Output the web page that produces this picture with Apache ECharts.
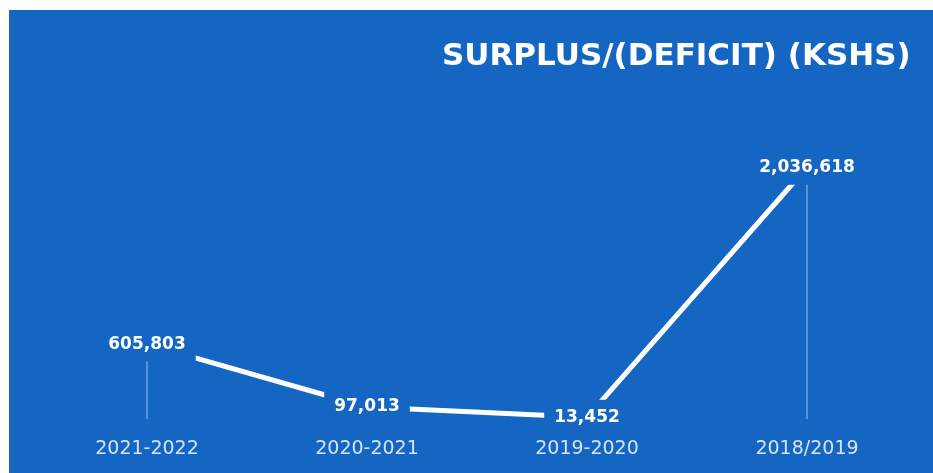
<!DOCTYPE html>
<html>
<head>
<meta charset="utf-8">
<script src="https://cdn.jsdelivr.net/npm/echarts@6/dist/echarts.min.js"></script>
<style>
  html, body { margin: 0; padding: 0; background: #ffffff; }
  #chart { position: absolute; left: 9px; top: 10px; width: 924px; height: 463px; }
</style>
</head>
<body>
<div id="chart"></div>
<script>
// Financial years, newest first
const years = ['2021-2022', '2020-2021', '2019-2020', '2018/2019'];
// Surplus / (deficit) in KSHS
const surplus = [605803, 97013, 13452, 2036618];

const BLUE = '#1566c2';

const chart = echarts.init(document.getElementById('chart'));
chart.setOption({
  backgroundColor: BLUE,
  animation: false,
  title: {
    text: 'SURPLUS/(DEFICIT) (KSHS)',
    left: 428,
    top: 26,
    textStyle: {
      color: '#ffffff',
      fontFamily: 'DejaVu Sans',
      fontWeight: 'bold',
      fontSize: 31,
      lineHeight: 31
    }
  },
  grid: { left: 28, width: 880, top: 100, bottom: 54 },
  xAxis: {
    type: 'category',
    data: years,
    boundaryGap: true,
    axisLine: { show: false },
    axisTick: { show: false },
    axisLabel: {
      margin: 21,
      color: '#d6e3f4',
      fontFamily: 'DejaVu Sans',
      fontSize: 19
    }
  },
  yAxis: {
    type: 'value',
    min: 0,
    max: 2500000,
    show: false,
    splitLine: { show: false }
  },
  series: [
    {
      // thin drop lines from each point down to the baseline
      type: 'bar',
      data: surplus,
      barWidth: 1,
      z: 1,
      itemStyle: { color: 'rgba(255,255,255,0.6)' },
      silent: true
    },
    {
      type: 'line',
      data: surplus,
      z: 3,
      symbol: 'circle',
      symbolSize: 1,
      itemStyle: { color: '#ffffff' },
      lineStyle: { color: '#ffffff', width: 5 },
      label: {
        show: true,
        position: 'inside',
        color: '#ffffff',
        fontFamily: 'DejaVu Sans',
        fontWeight: 'bold',
        fontSize: 17,
        backgroundColor: BLUE,
        padding: [9, 10],
        formatter: p => p.value.toLocaleString('en-US')
      }
    }
  ]
});
</script>
</body>
</html>
